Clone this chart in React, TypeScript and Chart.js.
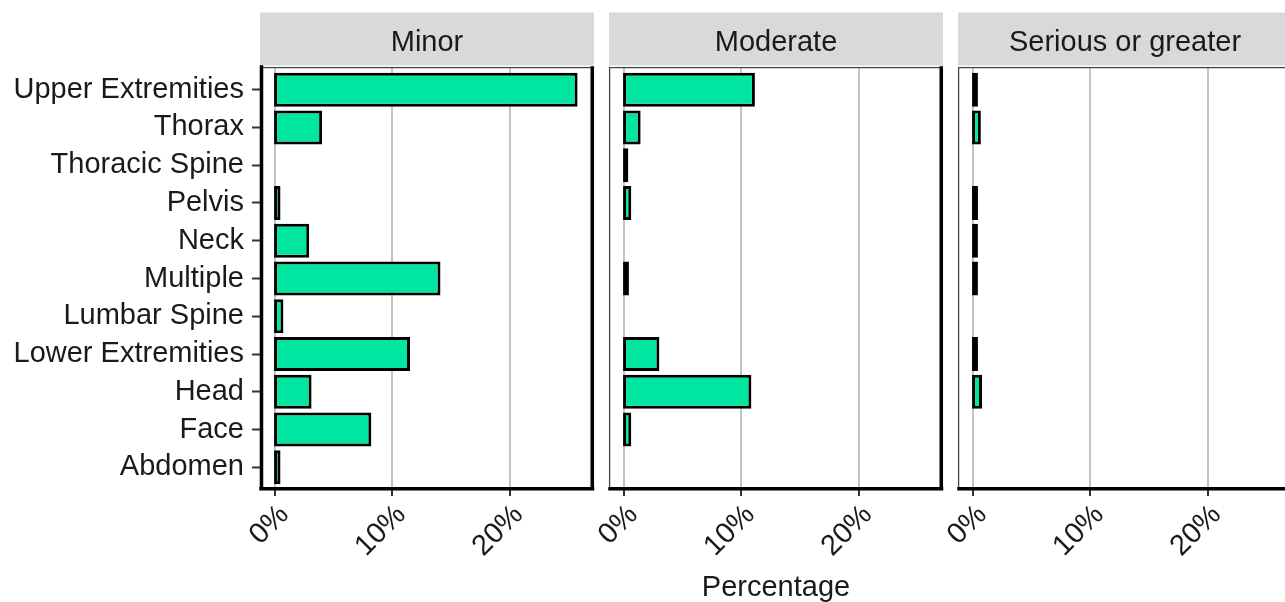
import React, { useEffect, useRef } from "react";
import { Chart, registerables } from "chart.js";

Chart.register(...registerables);

const categories = [
  "Upper Extremities",
  "Thorax",
  "Thoracic Spine",
  "Pelvis",
  "Neck",
  "Multiple",
  "Lumbar Spine",
  "Lower Extremities",
  "Head",
  "Face",
  "Abdomen",
];
const panelTitles = ["Minor", "Moderate", "Serious or greater"];
const minorValues: (number | null)[] = [25.8, 4.0, null, 0.45, 2.9, 14.1, 0.7, 11.5, 3.1, 8.2, 0.45];
const moderateValues: (number | null)[] = [11.15, 1.4, 0.35, 0.6, null, 0.4, null, 3.0, 10.85, 0.6, null];
const seriousValues: (number | null)[] = [0.4, 0.65, null, 0.4, 0.4, 0.4, null, 0.4, 0.75, null, null];
const xTickValues = [0, 10, 20];
const xTickLabels = ["0%", "10%", "20%"];
const xAxisTitle = "Percentage";

const FONT = "'Liberation Sans', Arial, Helvetica, sans-serif";
const TEXT = "#1a1a1a";
const FILL = "#00E5A0";

const decorPlugin = {
  id: "panelDecor",
  beforeDraw(chart: any, _args: any, opts: any) {
    const { ctx, chartArea } = chart;
    const { left, right, top } = chartArea;
    ctx.save();
    ctx.fillStyle = "#D9D9D9";
    ctx.fillRect(left, 12.5, right - left, top - 1.5 - 12.5);
    ctx.fillStyle = TEXT;
    ctx.font = `29px ${FONT}`;
    ctx.textAlign = "center";
    ctx.textBaseline = "alphabetic";
    ctx.fillText(opts.label, (left + right) / 2, 50.5);
    ctx.restore();
  },
  afterDraw(chart: any, _args: any, opts: any) {
    const { ctx, chartArea } = chart;
    const { left, right, top, bottom } = chartArea;
    ctx.save();
    ctx.strokeStyle = "#444";
    ctx.lineWidth = 1.3;
    ctx.strokeRect(left + 0.6, top + 0.6, right - left - 1.2, bottom - top - 1.2);
    ctx.strokeStyle = "#000";
    ctx.lineWidth = 3.5;
    ctx.lineCap = "square";
    ctx.beginPath();
    ctx.moveTo(left + 1, bottom - 1.2);
    ctx.lineTo(right - 1.5, bottom - 1.2);
    if (opts.thickRight) {
      ctx.moveTo(right - 1.75, top + 1);
      ctx.lineTo(right - 1.75, bottom - 1.2);
    }
    if (opts.thickLeft) {
      ctx.moveTo(left + 1.5, top);
      ctx.lineTo(left + 1.5, bottom - 1.2);
    }
    ctx.stroke();
    ctx.restore();
  },
};

type PanelProps = {
  title: string;
  values: (number | null)[];
  canvasLeft: number;
  canvasWidth: number;
  padLeft: number;
  padRight: number;
  showY: boolean;
  showTitle: boolean;
  thickLeft: boolean;
  thickRight: boolean;
};

function Panel(props: PanelProps) {
  const ref = useRef<HTMLCanvasElement | null>(null);
  useEffect(() => {
    if (!ref.current) return;
    const data = props.values
      .map((v, i) => ({ x: v, y: i }))
      .filter((d) => d.x !== null);
    const yScale: any = {
      type: "linear",
      min: -0.6,
      max: 10.6,
      reverse: true,
      offset: false,
      display: props.showY,
      afterBuildTicks: (s: any) => {
        s.ticks = categories.map((_, i) => ({ value: i }));
      },
      grid: {
        offset: false,
        drawOnChartArea: false,
        drawTicks: true,
        tickLength: 8,
        tickColor: "#333",
        tickWidth: 2,
      },
      border: { display: false },
      ticks: {
        autoSkip: false,
        padding: 8,
        color: TEXT,
        font: { family: FONT, size: 29 },
        callback: (v: any) => categories[v as number],
      },
    };
    if (props.showY) {
      yScale.afterFit = (s: any) => {
        s.width = 260;
      };
    }
    const chart = new Chart(ref.current, {
      type: "bar",
      data: {
        datasets: [
          {
            data: data as any,
            base: -0.1,
            backgroundColor: FILL,
            borderColor: "#000",
            borderWidth: 3,
            borderSkipped: false,
            barPercentage: 0.9,
            categoryPercentage: 1,
          },
        ],
      },
      options: {
        indexAxis: "y",
        responsive: false,
        animation: false,
        layout: {
          padding: { top: 67, left: props.padLeft, right: props.padRight, bottom: 0 },
        },
        plugins: {
          legend: { display: false },
          tooltip: { enabled: false },
          panelDecor: {
            label: props.title,
            thickLeft: props.thickLeft,
            thickRight: props.thickRight,
          },
        } as any,
        scales: {
          x: {
            type: "linear",
            position: "bottom",
            min: -1.3,
            max: 27.2,
            afterBuildTicks: (s: any) => {
              s.ticks = xTickValues.map((v) => ({ value: v }));
            },
            afterFit: (s: any) => {
              s.height = 112;
            },
            grid: {
              color: "#C4C4C4",
              lineWidth: 2,
              drawOnChartArea: true,
              drawTicks: true,
              tickLength: 6,
              tickColor: "#333",
              tickWidth: 2,
            },
            border: { display: false },
            ticks: {
              autoSkip: false,
              minRotation: 45,
              maxRotation: 45,
              padding: 2,
              labelOffset: 9,
              color: TEXT,
              font: { family: FONT, size: 29 },
              callback: (v: any) => xTickLabels[xTickValues.indexOf(v as number)],
            },
            title: {
              display: props.showTitle,
              text: xAxisTitle,
              color: TEXT,
              font: { family: FONT, size: 29 },
              padding: { top: 0, bottom: -3 },
            },
          },
          y: yScale,
        },
      },
      plugins: [decorPlugin as any],
    });
    return () => chart.destroy();
  }, []);
  return (
    <canvas
      ref={ref}
      width={props.canvasWidth}
      height={602}
      style={{
        position: "absolute",
        left: props.canvasLeft,
        top: 0,
        width: props.canvasWidth,
        height: 602,
        display: "block",
      }}
    />
  );
}

export default function App() {
  return (
    <div
      style={{
        position: "absolute",
        left: 0,
        top: 0,
        width: 1285,
        height: 602,
        overflow: "hidden",
        background: "#ffffff",
      }}
    >
      <Panel
        title={panelTitles[0]}
        values={minorValues}
        canvasLeft={0}
        canvasWidth={610}
        padLeft={0}
        padRight={16}
        showY={true}
        showTitle={false}
        thickLeft={true}
        thickRight={true}
      />
      <Panel
        title={panelTitles[1]}
        values={moderateValues}
        canvasLeft={560}
        canvasWidth={400}
        padLeft={49}
        padRight={17}
        showY={false}
        showTitle={true}
        thickLeft={false}
        thickRight={true}
      />
      <Panel
        title={panelTitles[2]}
        values={seriousValues}
        canvasLeft={910}
        canvasWidth={400}
        padLeft={48}
        padRight={18}
        showY={false}
        showTitle={false}
        thickLeft={false}
        thickRight={true}
      />
    </div>
  );
}
